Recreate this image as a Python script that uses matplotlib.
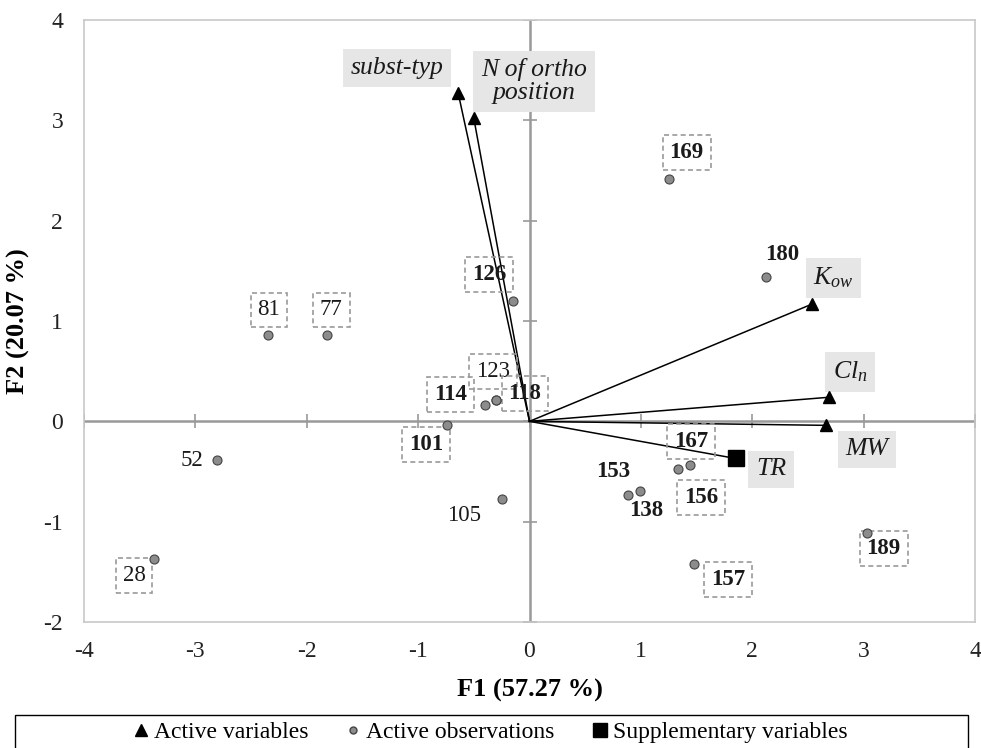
import numpy as np
import matplotlib
matplotlib.use('Agg')
import matplotlib.pyplot as plt
from matplotlib.lines import Line2D
from matplotlib.patches import Rectangle

plt.rcParams['font.family'] = 'Liberation Serif'
plt.rcParams['mathtext.fontset'] = 'custom'
plt.rcParams['mathtext.rm'] = 'Liberation Serif'
plt.rcParams['mathtext.it'] = 'Liberation Serif:italic'
plt.rcParams['axes.unicode_minus'] = False

# active variables (F1, F2)
var_names = ['subst-typ', 'N of ortho\nposition', '$K_{ow}$', '$Cl_n$', 'MW']
var_f1 = [-0.64, -0.50, 2.54, 2.69, 2.66]
var_f2 = [3.27, 3.02, 1.17, 0.24, -0.04]
var_lab_x = [-1.19, 0.04, 2.73, 2.88, 3.03]
var_lab_y = [3.52, 3.39, 1.43, 0.49, -0.28]

# supplementary variable
sup_names = ['TR']
sup_f1 = [1.85]
sup_f2 = [-0.37]
sup_lab_x = [2.17]
sup_lab_y = [-0.48]

# active observations
obs_names = ['169', '180', '126', '81', '77', '123', '114', '118', '101', '52',
             '105', '28', '167', '153', '138', '156', '157', '189']
obs_f1 = [1.25, 2.12, -0.15, -2.35, -1.82, -0.30, -0.40, -0.30, -0.74, -2.81,
          -0.25, -3.37, 1.44, 0.88, 0.99, 1.33, 1.48, 3.03]
obs_f2 = [2.42, 1.44, 1.20, 0.86, 0.86, 0.21, 0.16, 0.21, -0.04, -0.39,
          -0.77, -1.37, -0.44, -0.73, -0.69, -0.48, -1.42, -1.11]
obs_bold = [1, 1, 1, 0, 0, 0, 1, 1, 1, 0, 0, 0, 1, 1, 1, 1, 1, 1]
obs_boxed = [1, 0, 1, 1, 1, 1, 1, 1, 1, 0, 0, 1, 1, 0, 0, 1, 1, 1]
obs_lab_x = [1.41, 2.27, -0.36, -2.34, -1.78, -0.33, -0.71, -0.04, -0.93, -3.03,
             -0.59, -3.55, 1.45, 0.75, 1.05, 1.54, 1.78, 3.18]
obs_lab_y = [2.68, 1.66, 1.46, 1.11, 1.11, 0.50, 0.27, 0.28, -0.23, -0.39,
             -0.94, -1.54, -0.20, -0.50, -0.89, -0.76, -1.58, -1.27]

xticks = np.arange(-4, 5)
yticks = np.arange(-2, 5)

fig = plt.figure(figsize=(9.81, 7.48), dpi=100)
ax = fig.add_axes([84 / 981, 126 / 748, 891 / 981, 602 / 748])
ax.set_xlim(-4, 4)
ax.set_ylim(-2, 4)
ax.set_xticks(xticks)
ax.set_yticks(yticks)
ax.tick_params(length=0, labelsize=17, colors='#222222')
ax.tick_params(axis='x', pad=14)
ax.tick_params(axis='y', pad=15)
for s in ax.spines.values():
    s.set_color('#c8c8c8')
    s.set_linewidth(1.2)

# zero axes with cross ticks
ax.axhline(0, color='#999999', lw=1.8, zorder=1)
ax.axvline(0, color='#999999', lw=1.8, zorder=1)
ax.plot(xticks, np.zeros(len(xticks)), '|', ms=10, color='#999999', mew=1.2, zorder=1)
ax.plot(np.zeros(len(yticks)), yticks, '_', ms=10, color='#999999', mew=1.2, zorder=1)

# vectors
for x, y in zip(var_f1 + sup_f1, var_f2 + sup_f2):
    ax.plot([0, x], [0, y], color='black', lw=1.1, zorder=2)
ax.plot(var_f1, var_f2, '^', color='black', ms=9, ls='none', zorder=4)
ax.plot(sup_f1, sup_f2, 's', color='black', ms=11, ls='none', zorder=4)

# observations
ax.plot(obs_f1, obs_f2, 'o', mfc='#8c8c8c', mec='#444444', mew=0.8, ms=6.5, ls='none', zorder=4)

gray_box = dict(boxstyle='square,pad=0.3', fc='#e6e6e6', ec='none')
for name, x, y in zip(var_names + sup_names, var_lab_x + sup_lab_x, var_lab_y + sup_lab_y):
    ax.text(x, y, name, ha='center', va='center', fontsize=18.5, style='italic',
            color='#1a1a1a', bbox=gray_box, zorder=3, linespacing=1.05)

dash_box = dict(boxstyle='square,pad=0.3', fc='none', ec='#999999', ls=(0, (3, 2)), lw=1.2)
for name, x, y, b, bx in zip(obs_names, obs_lab_x, obs_lab_y, obs_bold, obs_boxed):
    ax.text(x, y, name, ha='center', va='center', fontsize=16.5,
            fontweight='bold' if b else 'normal', color='#1a1a1a',
            bbox=dash_box if bx else None, zorder=3)

ax.set_xlabel('F1 (57.27 %)', fontsize=19, fontweight='bold', labelpad=12)
ax.set_ylabel('F2 (20.07 %)', fontsize=19, fontweight='bold', labelpad=10)

# legend
fig.patches.append(Rectangle((15 / 981, -0.01), 953 / 981, 33 / 748 + 0.01,
                             transform=fig.transFigure, fill=False, ec='black', lw=1))
handles = [Line2D([], [], marker='^', color='black', ls='none', ms=8),
           Line2D([], [], marker='o', mfc='#8c8c8c', mec='#444444', ls='none', ms=5),
           Line2D([], [], marker='s', color='black', ls='none', ms=10)]
fig.legend(handles, ['Active variables', 'Active observations', 'Supplementary variables'],
           loc='center', bbox_to_anchor=(0.5, 16 / 748), ncol=3, frameon=False,
           fontsize=17, handlelength=0.6, handletextpad=0.25, columnspacing=1.6)

fig.savefig('out.png', dpi=100)
